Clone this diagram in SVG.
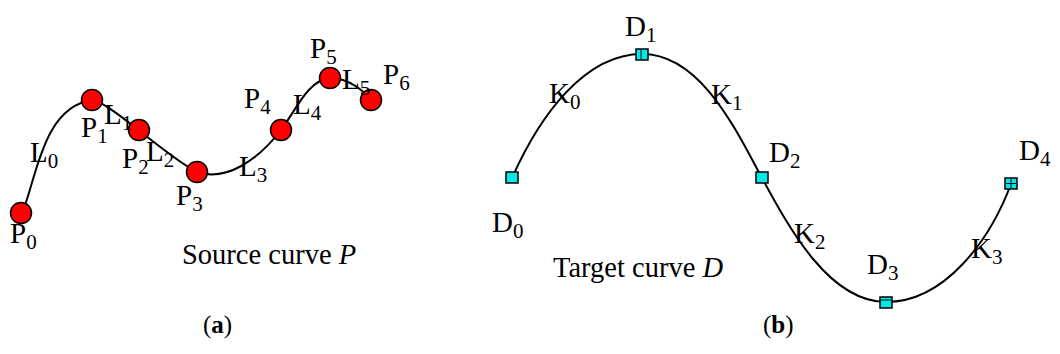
<svg xmlns="http://www.w3.org/2000/svg" width="1060" height="354" viewBox="0 0 1060 354">
<style>
.lbl{font-family:"Liberation Serif","Times New Roman",serif;font-size:29px;fill:#000}
.sub{font-size:21px}
.cap{font-family:"Liberation Serif","Times New Roman",serif;font-size:28.5px;fill:#000}
.pn{fill:#ff0000;stroke:#000;stroke-width:1.5}
.dn{fill:#00e8e8;stroke:#000;stroke-width:1.5}
.curve{fill:none;stroke:#000;stroke-width:2}
.tag{font-family:"Liberation Serif","Times New Roman",serif;font-size:25px;fill:#000}
</style>
<rect width="1060" height="354" fill="#fff"/>
<g id="connectors">
<path class="curve" d="M22,213 C36,182 42,106 93,100 C112,104 168,158 197,172 C226,182 258,160 281,130 C296,110 308,80 330,78 C350,78 364,92 372,100"/>
<path class="curve" d="M512,178 C540,115 585,54 642,54 C700,54 735,128 762,178 C790,230 830,302 886,302 C945,302 990,240 1011,184"/>
</g>
<g id="P0"><circle class="pn" cx="21" cy="213" r="10.5"/><text class="lbl" x="10" y="243">P<tspan class="sub" dy="6">0</tspan></text></g>
<g id="P1"><circle class="pn" cx="92" cy="100" r="10.5"/><text class="lbl" x="81" y="137">P<tspan class="sub" dy="6">1</tspan></text></g>
<g id="P2"><circle class="pn" cx="139" cy="130" r="10.5"/><text class="lbl" x="122" y="168">P<tspan class="sub" dy="6">2</tspan></text></g>
<g id="P3"><circle class="pn" cx="197" cy="172" r="10.5"/><text class="lbl" x="176" y="205">P<tspan class="sub" dy="6">3</tspan></text></g>
<g id="P4"><circle class="pn" cx="281" cy="130" r="10.5"/><text class="lbl" x="244" y="108">P<tspan class="sub" dy="6">4</tspan></text></g>
<g id="P5"><circle class="pn" cx="330" cy="78" r="10.5"/><text class="lbl" x="310" y="58">P<tspan class="sub" dy="6">5</tspan></text></g>
<g id="P6"><circle class="pn" cx="371" cy="100" r="10.5"/><text class="lbl" x="383" y="84">P<tspan class="sub" dy="6">6</tspan></text></g>
<g id="L-labels">
<text class="lbl" x="30" y="162">L<tspan class="sub" dy="6">0</tspan></text>
<text class="lbl" x="104" y="124">L<tspan class="sub" dy="6">1</tspan></text>
<text class="lbl" x="146" y="161">L<tspan class="sub" dy="6">2</tspan></text>
<text class="lbl" x="239" y="176">L<tspan class="sub" dy="6">3</tspan></text>
<text class="lbl" x="293" y="114">L<tspan class="sub" dy="6">4</tspan></text>
<text class="lbl" x="342" y="89">L<tspan class="sub" dy="6">5</tspan></text>
</g>
<text class="cap" x="182" y="264">Source curve <tspan font-style="italic">P</tspan></text>
<text class="tag" x="203" y="333">(<tspan font-weight="bold">a</tspan>)</text>
<g id="D0"><rect class="dn" x="506" y="172" width="12" height="11"/><text class="lbl" x="492" y="232">D<tspan class="sub" dy="6">0</tspan></text></g>
<g id="D1"><rect class="dn" x="636" y="49" width="12" height="11"/><line x1="641" y1="50" x2="641" y2="59" stroke="#000" stroke-width="1"/><text class="lbl" x="625" y="36">D<tspan class="sub" dy="6">1</tspan></text></g>
<g id="D2"><rect class="dn" x="756" y="172" width="12" height="11"/><text class="lbl" x="769" y="162">D<tspan class="sub" dy="6">2</tspan></text></g>
<g id="D3"><rect class="dn" x="880" y="297" width="12" height="11"/><line x1="881" y1="300" x2="891" y2="300" stroke="#000" stroke-width="1"/><text class="lbl" x="867" y="274">D<tspan class="sub" dy="6">3</tspan></text></g>
<g id="D4"><rect class="dn" x="1005" y="178" width="12" height="11"/><line x1="1006" y1="183.5" x2="1016" y2="183.5" stroke="#000" stroke-width="1"/><line x1="1011" y1="179" x2="1011" y2="188" stroke="#000" stroke-width="1"/><text class="lbl" x="1019" y="160">D<tspan class="sub" dy="6">4</tspan></text></g>
<g id="K-labels">
<text class="lbl" x="549" y="103">K<tspan class="sub" dy="6">0</tspan></text>
<text class="lbl" x="711" y="104">K<tspan class="sub" dy="6">1</tspan></text>
<text class="lbl" x="794" y="243">K<tspan class="sub" dy="6">2</tspan></text>
<text class="lbl" x="971" y="258">K<tspan class="sub" dy="6">3</tspan></text>
</g>
<text class="cap" x="553" y="277">Target curve <tspan font-style="italic">D</tspan></text>
<text class="tag" x="763" y="333">(<tspan font-weight="bold">b</tspan>)</text>
</svg>
